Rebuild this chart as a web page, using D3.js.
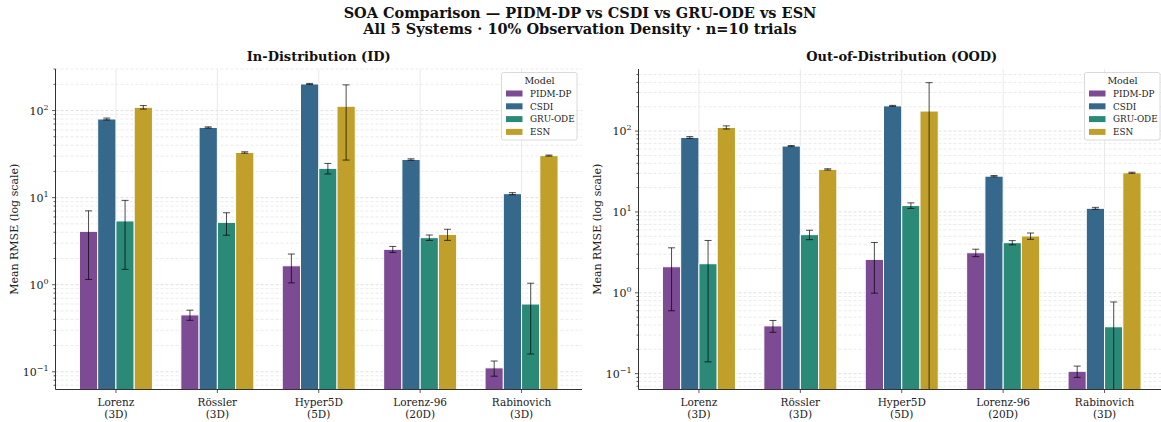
<!DOCTYPE html>
<html><head><meta charset="utf-8">
<script src="https://cdn.jsdelivr.net/npm/d3@7"></script>
<style>
html,body{margin:0;padding:0;background:#fff;}
svg{display:block;font-family:"DejaVu Serif",serif;}
</style></head>
<body>
<svg id="chart" width="1161" height="422"></svg>
<script>
// ---- data ----
const systems = ["Lorenz", "Rössler", "Hyper5D", "Lorenz-96", "Rabinovich"];
const dims = ["(3D)", "(3D)", "(5D)", "(20D)", "(3D)"];
const models = ["PIDM-DP", "CSDI", "GRU-ODE", "ESN"];
const colors = ["#7d4b93", "#35688a", "#2a8a77", "#c0a02b"];

// In-Distribution means / std
const idPIDM = [4.1, 0.45, 1.65, 2.55, 0.111];
const idPIDMErr = [2.95, 0.06, 0.6, 0.2, 0.022];
const idCSDI = [80, 64, 202, 27.4, 11.1];
const idCSDIErr = [2, 1, 3, 0.5, 0.3];
const idGRU = [5.4, 5.2, 21.7, 3.47, 0.60];
const idGRUErr = [3.9, 1.5, 3, 0.25, 0.44];
const idESN = [109, 33, 112, 3.78, 30.4];
const idESNErr = [5, 0.6, 85, 0.55, 0.4];

// Out-of-Distribution means / std
const oodPIDM = [2.1, 0.39, 2.59, 3.13, 0.107];
const oodPIDMErr = [1.5, 0.065, 1.6, 0.33, 0.017];
const oodCSDI = [83.5, 65.3, 205, 27.7, 11.1];
const oodCSDIErr = [2, 1, 3, 0.5, 0.3];
const oodGRU = [2.29, 5.24, 12.0, 4.17, 0.38];
const oodGRUErr = [2.15, 0.7, 0.95, 0.25, 0.39];
const oodESN = [111, 33.6, 177, 5.04, 30.5];
const oodESNErr = [5, 0.6, 220, 0.45, 0.5];

const yTicks = [0.1, 1, 10, 100];
const yTickExp = ["\u22121", "0", "1", "2"];

const svg = d3.select("#chart");

// ---- titles ----
svg.append("text").attr("x", 580).attr("y", 18).attr("text-anchor", "middle")
  .attr("font-size", 14.5).attr("font-weight", "bold").attr("fill", "#111")
  .text("SOA Comparison \u2014 PIDM-DP vs CSDI vs GRU-ODE vs ESN");
svg.append("text").attr("x", 580).attr("y", 34).attr("text-anchor", "middle")
  .attr("font-size", 14.5).attr("font-weight", "bold").attr("fill", "#111")
  .text("All 5 Systems \u00b7 10% Observation Density \u00b7 n=10 trials");

function panel(cfg) {
  const { x0, x1, yTop, yBot, yDomain, title, means, errs, id } = cfg;
  const g = svg.append("g");
  const x = d3.scaleLinear().domain([-0.596, 4.596]).range([x0, x1]);
  const y = d3.scaleLog().domain(yDomain).range([yBot, yTop]);
  const bw = 0.18;

  // clip
  svg.append("defs").append("clipPath").attr("id", "clip" + id)
    .append("rect").attr("x", x0).attr("y", yTop).attr("width", x1 - x0).attr("height", yBot - yTop);

  // grid: y (major+minor) dashed
  const minorTicks = [];
  const lo = Math.floor(Math.log10(yDomain[0])), hi = Math.ceil(Math.log10(yDomain[1]));
  for (let e = lo; e <= hi; e++) for (let m = 1; m <= 9; m++) {
    const v = m * Math.pow(10, e);
    if (v >= yDomain[0] && v <= yDomain[1]) minorTicks.push({ v, major: m === 1 });
  }
  g.append("g").selectAll("line").data(minorTicks).join("line")
    .attr("x1", x0).attr("x2", x1)
    .attr("y1", d => y(d.v)).attr("y2", d => y(d.v))
    .attr("stroke", d => d.major ? "#d8d8d8" : "#e6e6e6")
    .attr("stroke-width", 0.8).attr("stroke-dasharray", "3,2");
  // x grid
  g.append("g").selectAll("line").data(systems).join("line")
    .attr("x1", (d, i) => x(i)).attr("x2", (d, i) => x(i))
    .attr("y1", yTop).attr("y2", yBot)
    .attr("stroke", "#e4e4e4").attr("stroke-width", 0.8);

  // bars
  const barsG = g.append("g").attr("clip-path", `url(#clip${id})`);
  models.forEach((mName, mi) => {
    const vals = means[mi];
    barsG.append("g").selectAll("rect").data(vals).join("rect")
      .attr("x", (d, i) => x(i + (mi - 1.5) * bw - bw / 2))
      .attr("width", x(bw) - x(0))
      .attr("y", d => y(d))
      .attr("height", d => yBot - y(d))
      .attr("fill", colors[mi])
      .attr("stroke", "#fff").attr("stroke-width", 1);
  });
  // error bars
  models.forEach((mName, mi) => {
    const vals = means[mi], e = errs[mi];
    const eg = barsG.append("g").attr("stroke", "#000").attr("stroke-opacity", 0.7).attr("stroke-width", 1);
    vals.forEach((v, i) => {
      const cx = x(i + (mi - 1.5) * bw);
      const top = v + e[i];
      const low = v - e[i];
      const yt = y(top);
      const yb = low > 0 ? y(low) : yBot + 10;
      eg.append("line").attr("x1", cx).attr("x2", cx).attr("y1", yt).attr("y2", yb);
      eg.append("line").attr("x1", cx - 3.5).attr("x2", cx + 3.5).attr("y1", yt).attr("y2", yt);
      if (low > 0) eg.append("line").attr("x1", cx - 3.5).attr("x2", cx + 3.5).attr("y1", yb).attr("y2", yb);
    });
  });

  // spines
  g.append("line").attr("x1", x0).attr("x2", x0).attr("y1", yTop).attr("y2", yBot)
    .attr("stroke", "#333").attr("stroke-width", 1);
  g.append("line").attr("x1", x0).attr("x2", x1).attr("y1", yBot).attr("y2", yBot)
    .attr("stroke", "#333").attr("stroke-width", 1);

  // y ticks
  g.append("g").selectAll("line").data(minorTicks).join("line")
    .attr("x1", d => x0 - (d.major ? 3.5 : 2)).attr("x2", x0)
    .attr("y1", d => y(d.v)).attr("y2", d => y(d.v))
    .attr("stroke", "#333").attr("stroke-width", 0.8);
  yTicks.forEach((t, i) => {
    const tx = g.append("text").attr("x", x0 - 7).attr("y", y(t) + 4)
      .attr("text-anchor", "end").attr("font-size", 11).attr("fill", "#222");
    tx.append("tspan").text("10");
    tx.append("tspan").attr("dy", -5).attr("font-size", 8).text(yTickExp[i]);
  });

  // x ticks & labels
  systems.forEach((s, i) => {
    g.append("line").attr("x1", x(i)).attr("x2", x(i)).attr("y1", yBot).attr("y2", yBot + 3.5)
      .attr("stroke", "#333").attr("stroke-width", 0.8);
    g.append("text").attr("x", x(i)).attr("y", yBot + 16).attr("text-anchor", "middle")
      .attr("font-size", 10.5).attr("fill", "#222").text(s);
    g.append("text").attr("x", x(i)).attr("y", yBot + 28).attr("text-anchor", "middle")
      .attr("font-size", 10.5).attr("fill", "#222").text(dims[i]);
  });

  // y label
  g.append("text").attr("transform", `translate(${x0 - 38},${(yTop + yBot) / 2}) rotate(-90)`)
    .attr("text-anchor", "middle").attr("font-size", 11).attr("fill", "#222")
    .text("Mean RMSE (log scale)");

  // title
  g.append("text").attr("x", (x0 + x1) / 2).attr("y", 61).attr("text-anchor", "middle")
    .attr("font-size", 13).attr("font-weight", "bold").attr("fill", "#111").text(title);

  // legend
  const lx = cfg.legendX, ly = 72.5;
  const lg = g.append("g");
  lg.append("rect").attr("x", lx).attr("y", ly).attr("width", 75.5).attr("height", 67.5)
    .attr("rx", 2).attr("fill", "#fff").attr("fill-opacity", 0.85)
    .attr("stroke", "#d0d0d0").attr("stroke-width", 0.8);
  lg.append("text").attr("x", lx + 38).attr("y", ly + 11).attr("text-anchor", "middle")
    .attr("font-size", 9.5).attr("fill", "#222").text("Model");
  models.forEach((m, i) => {
    const yy = ly + 21 + i * 12.8;
    lg.append("rect").attr("x", lx + 4.5).attr("y", yy - 3).attr("width", 16.5).attr("height", 6)
      .attr("fill", colors[i]);
    lg.append("text").attr("x", lx + 28.5).attr("y", yy + 3.2).attr("font-size", 8.8)
      .attr("fill", "#222").text(m);
  });
}

panel({
  id: "L", x0: 55.5, x1: 582, yTop: 69, yBot: 389.5, yDomain: [0.0626, 300],
  title: "In-Distribution (ID)",
  means: [idPIDM, idCSDI, idGRU, idESN],
  errs: [idPIDMErr, idCSDIErr, idGRUErr, idESNErr],
  legendX: 501.5
});
panel({
  id: "R", x0: 638.5, x1: 1165, yTop: 69, yBot: 389.5, yDomain: [0.0637, 586],
  title: "Out-of-Distribution (OOD)",
  means: [oodPIDM, oodCSDI, oodGRU, oodESN],
  errs: [oodPIDMErr, oodCSDIErr, oodGRUErr, oodESNErr],
  legendX: 1084.5
});
</script>
</body></html>
